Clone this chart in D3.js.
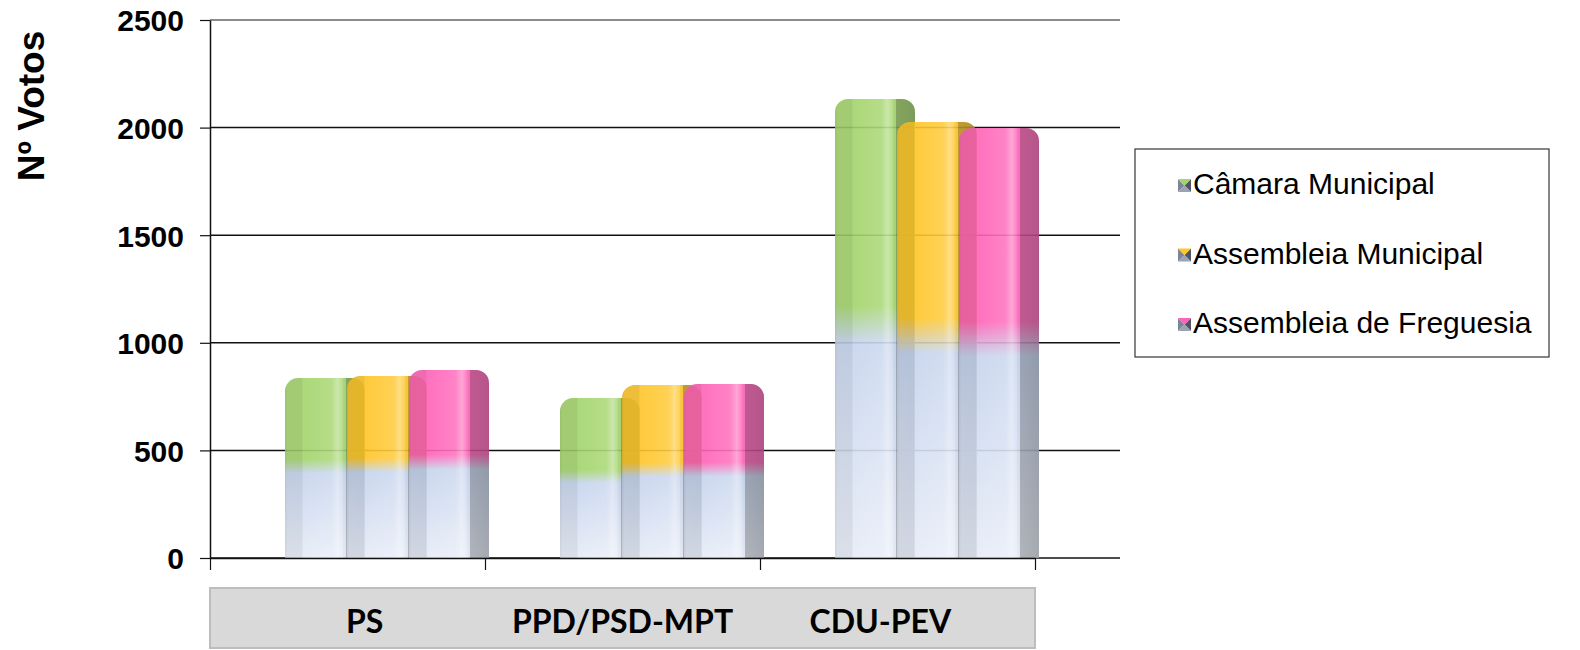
<!DOCTYPE html>
<html>
<head>
<meta charset="utf-8">
<script src="https://cdn.jsdelivr.net/npm/d3@7/dist/d3.min.js"></script>
<style>
  html, body { margin: 0; padding: 0; background: #fff; }
  svg { display: block; }
</style>
</head>
<body>
<svg id="chart" width="1580" height="650"></svg>
<script>
// ---- data ----
const categories = ["PS", "PPD/PSD-MPT", "CDU-PEV"];
const seriesNames = ["Câmara Municipal", "Assembleia Municipal", "Assembleia de Freguesia"];
const camaraMunicipal = [836, 743, 2133];
const assembleiaMunicipal = [846, 804, 2026];
const assembleiaFreguesia = [874, 808, 1998];
const yTicks = [0, 500, 1000, 1500, 2000, 2500];
const yTitle = "Nº Votos";

const seriesValues = [camaraMunicipal, assembleiaMunicipal, assembleiaFreguesia];
const seriesColors = ["#a3d56b", "#ffc629", "#ff63b8"];

const svg = d3.select("#chart");
const plot = { left: 210, right: 1035, top: 20, bottom: 558, gridRight: 1120 };

const y = d3.scaleLinear().domain([0, 2500]).range([plot.bottom, plot.top]);
const x = d3.scaleBand().domain(categories).range([plot.left, plot.right]).padding(0);
const xInner = d3.scaleBand().domain(d3.range(3)).range([75, 75 + 3 * 62]).padding(0);
const barW = xInner.bandwidth() + 18;
const xLabel = d3.scalePoint().domain(categories).range([plot.left, plot.right]).padding(0.6);

// ---- defs ----
const defs = svg.append("defs");
seriesColors.forEach((c, i) => {
  const g = defs.append("linearGradient").attr("id", "vg" + i)
    .attr("x1", 0).attr("y1", 0).attr("x2", 0).attr("y2", 1);
  [[0, c], [0.45, c], [0.53, "#c6d4ed"], [1, "#e7edf8"]].forEach(s =>
    g.append("stop").attr("offset", s[0]).attr("stop-color", s[1]));
});
const shade = defs.append("linearGradient").attr("id", "shade")
  .attr("x1", 0).attr("y1", 0).attr("x2", 1).attr("y2", 0);
[[0, "#000", 0.12], [0.03, "#000", 0.07], [0.21, "#000", 0.07], [0.24, "#fff", 0.0],
 [0.58, "#fff", 0.12], [0.66, "#fff", 0.38], [0.72, "#fff", 0.12], [0.755, "#000", 0.0],
 [0.765, "#000", 0.27], [1, "#000", 0.32]].forEach(s =>
  shade.append("stop").attr("offset", s[0]).attr("stop-color", s[1]).attr("stop-opacity", s[2]));

// ---- gridlines ----
svg.append("g").selectAll("line").data(yTicks).join("line")
  .attr("x1", plot.left).attr("x2", plot.gridRight)
  .attr("y1", d => y(d)).attr("y2", d => y(d))
  .attr("stroke", d => d === 2500 ? "#8c8c8c" : "#111")
  .attr("stroke-width", d => d === 2500 ? 2 : 1.5);

// ---- bars ----
function barPath(x0, y0, w, h, r) {
  return `M${x0},${y0 + h}V${y0 + r}A${r},${r} 0 0 1 ${x0 + r},${y0}H${x0 + w - r}A${r},${r} 0 0 1 ${x0 + w},${y0 + r}V${y0 + h}Z`;
}
const bars = [];
categories.forEach((cat, ci) => {
  seriesValues.forEach((vals, si) => {
    bars.push({ cat, si, v: vals[ci] });
  });
});
const barG = svg.append("g");
bars.forEach(b => {
  const x0 = x(b.cat) + xInner(b.si);
  const y0 = y(b.v);
  const h = y(0) - y0;
  const d = barPath(x0, y0, barW, h, 13);
  const g = barG.append("g").attr("opacity", 0.9);
  g.append("path").attr("d", d).attr("fill", `url(#vg${b.si})`);
  g.append("path").attr("d", d).attr("fill", "url(#shade)");
});

// ---- axes ----
const yAxis = d3.axisLeft(y).tickValues(yTicks).tickSize(10).tickSizeOuter(0)
  .tickPadding(16).tickFormat(d3.format("d"));
const yg = svg.append("g").attr("transform", `translate(${plot.left},0)`).call(yAxis);
yg.select(".domain").attr("stroke", "#111").attr("stroke-width", 1.5);
yg.selectAll(".tick line").attr("stroke", "#111").attr("stroke-width", 1.2);
yg.selectAll(".tick text")
  .attr("font-family", "'Liberation Sans', Arial, sans-serif")
  .attr("font-weight", "bold").attr("font-size", 30).attr("fill", "#000")
  .attr("dy", "0.36em");

const xLin = d3.scaleLinear().domain([0, categories.length]).range([plot.left, plot.right]);
const xAxis = d3.axisBottom(xLin).tickValues(d3.range(categories.length + 1))
  .tickSize(12).tickSizeOuter(0).tickFormat("");
const xg = svg.append("g").attr("transform", `translate(0,${plot.bottom})`).call(xAxis);
xg.select(".domain").attr("stroke", "#111").attr("stroke-width", 1.5);
xg.selectAll(".tick line").attr("stroke", "#111").attr("stroke-width", 1.2);

// ---- y title ----
svg.append("text")
  .attr("transform", `translate(44,106) rotate(-90)`)
  .attr("text-anchor", "middle")
  .attr("font-family", "'Liberation Sans', Arial, sans-serif")
  .attr("font-weight", "bold").attr("font-size", 37)
  .text(yTitle);

// ---- category box ----
svg.append("rect")
  .attr("x", plot.left).attr("y", 588)
  .attr("width", plot.right - plot.left).attr("height", 60)
  .attr("fill", "#d9d9d9").attr("stroke", "#bdbdbd").attr("stroke-width", 2);
svg.append("g").selectAll("text").data(categories).join("text")
  .attr("x", d => xLabel(d))
  .attr("y", 633)
  .attr("text-anchor", "middle")
  .attr("font-family", "Lato, 'Open Sans', sans-serif")
  .attr("font-weight", 700).attr("font-size", 32).attr("fill", "#000")
  .text(d => d);

// ---- legend ----
const leg = svg.append("g");
leg.append("rect").attr("x", 1135).attr("y", 149).attr("width", 414).attr("height", 208)
  .attr("fill", "#fff").attr("stroke", "#444").attr("stroke-width", 1.3);
const legY = d3.scalePoint().domain(d3.range(3)).range([194, 333]);
seriesNames.forEach((name, i) => {
  const by = legY(i);
  const ms = 13, mx = 1178, my = by - 15;
  const cx = mx + ms / 2, cy = my + ms / 2;
  const mg = leg.append("g");
  mg.append("path").attr("d", `M${mx},${my}L${cx},${cy}L${mx},${my + ms}Z`).attr("fill", "#7d8596");
  mg.append("path").attr("d", `M${mx + ms},${my}L${cx},${cy}L${mx + ms},${my + ms}Z`).attr("fill", "#4f5563");
  mg.append("path").attr("d", `M${mx},${my + ms}L${cx},${cy}L${mx + ms},${my + ms}Z`).attr("fill", "#9aa3b4");
  mg.append("path").attr("d", `M${mx},${my}L${cx},${cy}L${mx + ms},${my}Z`).attr("fill", seriesColors[i]);
  leg.append("text").attr("x", 1193).attr("y", by)
    .attr("font-family", "'Liberation Sans', Arial, sans-serif")
    .attr("font-size", 30).attr("fill", "#000")
    .text(name);
});
</script>
</body>
</html>
